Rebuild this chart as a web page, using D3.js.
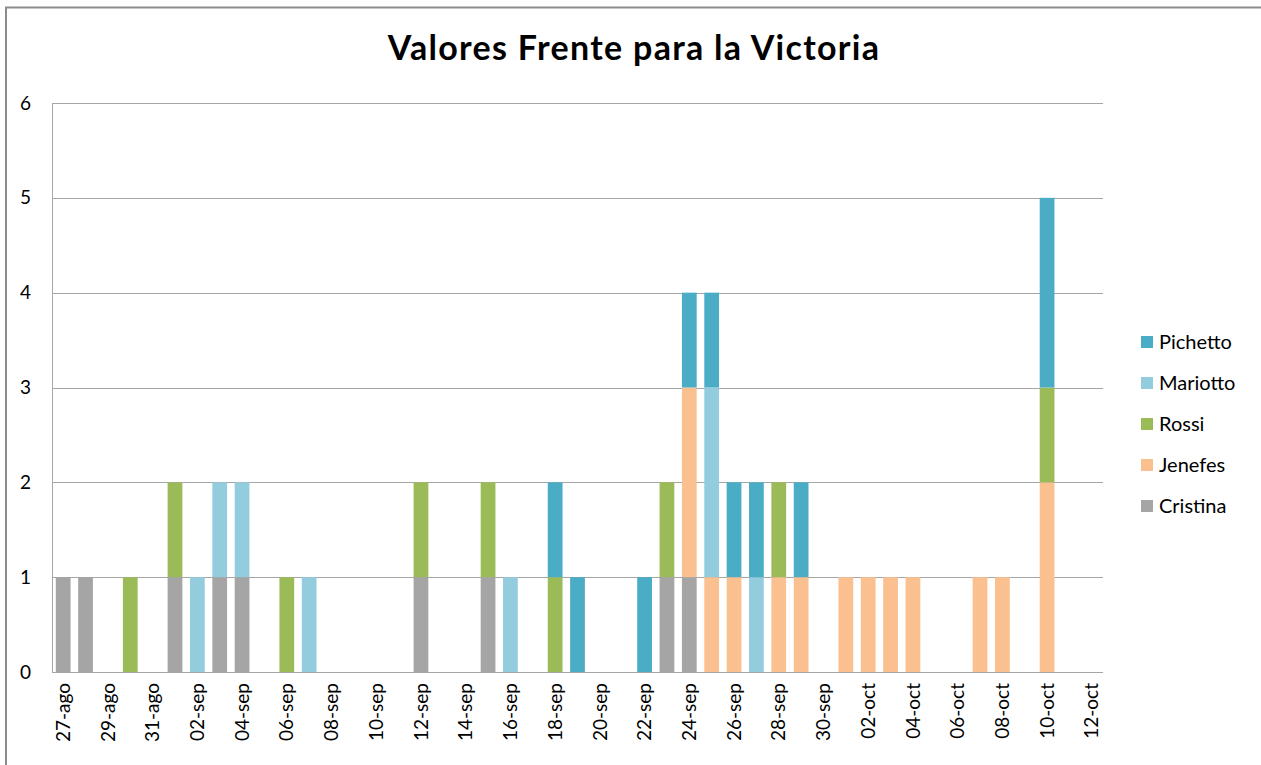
<!DOCTYPE html>
<html>
<head>
<meta charset="utf-8">
<script src="https://cdn.jsdelivr.net/npm/d3@7"></script>
<style>
  body { margin: 0; background: #fff; }
  svg text { font-family: Lato, "Open Sans", sans-serif; fill: #000; }
</style>
</head>
<body>
<div id="chart"></div>
<script>
// days with at least one value (dd-mmm, year 2011)
const dias = ["27-ago","28-ago","30-ago","01-sep","02-sep","03-sep","04-sep","06-sep","07-sep",
  "12-sep","15-sep","16-sep","18-sep","19-sep","22-sep","23-sep","24-sep","25-sep","26-sep",
  "27-sep","28-sep","29-sep","01-oct","02-oct","03-oct","04-oct","07-oct","08-oct","10-oct"];

const cristina = [1,1,0,1,0,1,1,0,0,1,1,0,0,0,0,1,1,0,0,0,0,0,0,0,0,0,0,0,0];
const jenefes  = [0,0,0,0,0,0,0,0,0,0,0,0,0,0,0,0,2,1,1,0,1,1,1,1,1,1,1,1,2];
const rossi    = [0,0,1,1,0,0,0,1,0,1,1,0,1,0,0,1,0,0,0,0,1,0,0,0,0,0,0,0,1];
const mariotto = [0,0,0,0,1,1,1,0,1,0,0,1,0,0,0,0,0,2,0,1,0,0,0,0,0,0,0,0,0];
const pichetto = [0,0,0,0,0,0,0,0,0,0,0,0,1,1,1,0,1,1,1,1,0,1,0,0,0,0,0,0,2];

// stacking order, bottom first
const seriesNames = ["Cristina", "Jenefes", "Rossi", "Mariotto", "Pichetto"];
const seriesValues = [cristina, jenefes, rossi, mariotto, pichetto];
const seriesColors = ["#a5a5a5", "#fac090", "#9bbb59", "#93cddd", "#4bacc6"];

const yTicks = [0, 1, 2, 3, 4, 5, 6];
const firstDay = "27-ago", lastDay = "12-oct";

const W = 1261, H = 765;
const margin = { left: 52, top: 103, right: 158, bottom: 93 };

const es = d3.timeFormatLocale({
  dateTime: "%x, %X", date: "%d/%m/%Y", time: "%H:%M:%S", periods: ["AM", "PM"],
  days: ["domingo","lunes","martes","miércoles","jueves","viernes","sábado"],
  shortDays: ["dom","lun","mar","mié","jue","vie","sáb"],
  months: ["enero","febrero","marzo","abril","mayo","junio","julio","agosto","septiembre","octubre","noviembre","diciembre"],
  shortMonths: ["ene","feb","mar","abr","may","jun","jul","ago","sep","oct","nov","dic"]
});
const fmt = es.format("%d-%b");
const parse = s => es.parse("%d-%b-%Y")(s + "-2011");

const allDays = d3.timeDay.range(parse(firstDay), d3.timeDay.offset(parse(lastDay), 1)).map(fmt);

const rows = dias.map((d, i) => {
  const r = { dia: d };
  seriesNames.forEach((n, k) => { r[n] = seriesValues[k][i]; });
  return r;
});
const stacked = d3.stack().keys(seriesNames)(rows);

const svg = d3.select("#chart").append("svg")
  .attr("width", W).attr("height", H);

// chart area border (runs off the right and bottom of the picture)
svg.append("rect")
  .attr("x", 6).attr("y", 7.5).attr("width", 1400).attr("height", 900)
  .attr("fill", "none").attr("stroke", "#8c8c8c").attr("stroke-width", 2);

const x = d3.scaleBand().domain(allDays)
  .range([margin.left, W - margin.right]).paddingInner(0.34).paddingOuter(0.17);
const y = d3.scaleLinear().domain([0, 6]).range([H - margin.bottom, margin.top]);

// gridlines
svg.append("g").selectAll("line").data(yTicks).enter().append("line")
  .attr("x1", margin.left).attr("x2", W - margin.right)
  .attr("y1", d => Math.round(y(d)) + 0.5).attr("y2", d => Math.round(y(d)) + 0.5)
  .attr("stroke", "#a6a6a6").attr("stroke-width", 1);

// left axis line
svg.append("line")
  .attr("x1", margin.left + 0.5).attr("x2", margin.left + 0.5)
  .attr("y1", y(6)).attr("y2", y(0))
  .attr("stroke", "#a6a6a6");

// bars
svg.append("g").selectAll("g").data(stacked).enter().append("g")
  .attr("fill", (d, i) => seriesColors[i])
  .selectAll("rect").data(d => d.filter(p => p[1] > p[0])).enter().append("rect")
  .attr("x", d => x(d.data.dia))
  .attr("width", x.bandwidth())
  .attr("y", d => y(d[1]))
  .attr("height", d => y(d[0]) - y(d[1]));

// y labels
svg.append("g").selectAll("text").data(yTicks).enter().append("text")
  .attr("x", 31).attr("y", d => y(d)).attr("dy", "0.35em")
  .attr("text-anchor", "end").attr("font-size", 19)
  .text(d => d);

// x labels every two days
const xTicks = allDays.filter((d, i) => i % 2 === 0);
svg.append("g").selectAll("text").data(xTicks).enter().append("text")
  .attr("transform", d => "translate(" + (x(d) + x.bandwidth() / 2) + "," + (y(0) + 11) + ") rotate(-90)")
  .attr("dy", "0.35em").attr("text-anchor", "end").attr("font-size", 19)
  .text(d => d);

// title
svg.append("text")
  .attr("x", 634).attr("y", 60).attr("text-anchor", "middle")
  .attr("font-size", 34).attr("font-weight", "bold")
  .attr("letter-spacing", 1.3)
  .text("Valores Frente para la Victoria");

// legend, top entry is the top of the stack
const legend = svg.append("g").selectAll("g")
  .data(seriesNames.slice().reverse()).enter().append("g")
  .attr("transform", (d, i) => "translate(1141," + (342 + i * 41) + ")");
legend.append("rect")
  .attr("x", 0).attr("y", -6).attr("width", 12).attr("height", 12)
  .attr("fill", d => seriesColors[seriesNames.indexOf(d)]);
legend.append("text")
  .attr("x", 18).attr("dy", "0.35em").attr("font-size", 20)
  .text(d => d);
</script>
</body>
</html>
